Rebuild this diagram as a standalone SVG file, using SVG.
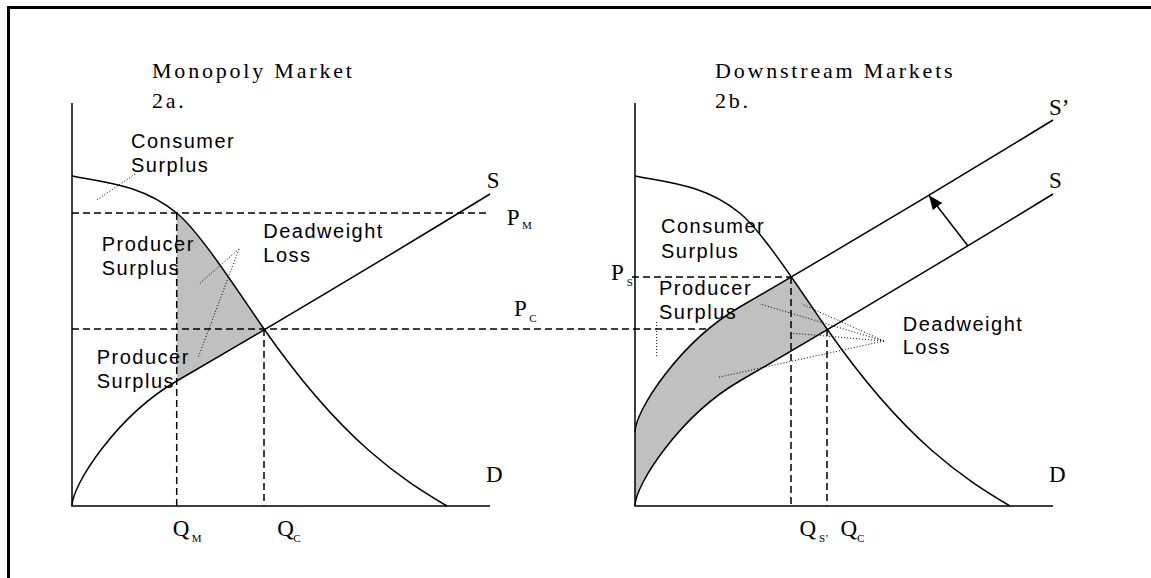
<svg xmlns="http://www.w3.org/2000/svg" width="1151" height="578" viewBox="0 0 1151 578">
<style>
.ax{stroke:#000;stroke-width:1.5;fill:none}
.cv{stroke:#000;stroke-width:1.5;fill:none}
.dash{stroke:#000;stroke-width:1.5;stroke-dasharray:7 4;fill:none}
.dot{stroke:#000;stroke-width:1;stroke-dasharray:1 2;fill:none}
.shade{fill:#c0c0c0;stroke:none}
.lbl{font-family:"Liberation Sans",Arial,sans-serif;font-size:20px;letter-spacing:1.5px;fill:#000}
.ttl{font-family:"Liberation Serif","Times New Roman",serif;font-size:22px;letter-spacing:2.8px;fill:#000}
.sym{font-family:"Liberation Serif","Times New Roman",serif;font-size:23px;fill:#000}
.sub{font-family:"Liberation Serif","Times New Roman",serif;font-size:11px;fill:#000}
</style>
<defs>
<clipPath id="belowD">
<path d="M635,176 C670,182.7 704.7,185 739.7,213 C763,232 802,293 827,329 C907,443.4 965,479 1010,506 L1010,600 L630,600 L630,176 Z"/>
</clipPath>
<marker id="head" markerUnits="userSpaceOnUse" markerWidth="14" markerHeight="12" refX="14" refY="6" orient="auto">
<path d="M0,0 L14,6 L0,12 Z" fill="#000"/>
</marker>
</defs>
<rect width="1151" height="578" fill="#fff"/>
<path id="frame" d="M8.5,578 V7.5 H1151" fill="none" stroke="#000" stroke-width="3"/>

<g id="panel-a">
<path class="shade" d="M176.7,213 C200,232 239,293 264,329 L264,329.85 Q220.36,355.6 176.7,381 Z"/>
<path class="dash" d="M72,213 H490 M72,329 H827 M176.7,213 V506 M264,329 V506"/>
<path class="ax" d="M72,103 V506 H490"/>
<path class="cv" d="M72,176 C107,182.7 141.7,185 176.7,213 C200,232 239,293 264,329 C344,443.4 402,479 447,506"/>
<path class="cv" d="M72,506 C72,485 116.7,415.9 176.7,381 Q333.35,290 490,194"/>
<path class="dot" d="M135,174 L96.7,200 M239,249 L199,284 M239,249 L198,358"/>
<text class="ttl" x="152" y="78">Monopoly Market</text>
<text class="ttl" x="152" y="108">2a.</text>
<text class="lbl" x="131" y="148">Consumer</text>
<text class="lbl" x="131" y="172">Surplus</text>
<text class="lbl" x="101.7" y="251">Producer</text>
<text class="lbl" x="101.7" y="275">Surplus</text>
<text class="lbl" x="263.3" y="238">Deadweight</text>
<text class="lbl" x="263.3" y="262">Loss</text>
<text class="lbl" x="96.7" y="364">Producer</text>
<text class="lbl" x="96.7" y="388">Surplus</text>
<text class="sym" x="486.7" y="188">S</text>
<text class="sym" x="506.7" y="225">P</text><text class="sub" x="522" y="229">M</text>
<text class="sym" x="514" y="316">P</text><text class="sub" x="529.3" y="322">C</text>
<text class="sym" x="486" y="482">D</text>
<text class="sym" x="172.7" y="536">Q</text><text class="sub" x="191.7" y="542">M</text>
<text class="sym" x="277.3" y="536">Q</text><text class="sub" x="293.3" y="542">C</text>
</g>

<g id="panel-b">
<path class="shade" clip-path="url(#belowD)" d="M635,432 C635,411 679.7,341.9 739.7,307 Q896.35,216 1053,120 L1053,194 Q896.35,290 739.7,381 C679.7,415.9 635,485 635,506 Z"/>
<path class="dash" d="M632,277 H791 M791,277 V506 M827,329 V506"/>
<path class="ax" d="M635,103 V506 H1053"/>
<path class="cv" d="M635,176 C670,182.7 704.7,185 739.7,213 C763,232 802,293 827,329 C907,443.4 965,479 1010,506"/>
<path class="cv" d="M635,506 C635,485 679.7,415.9 739.7,381 Q896.35,290 1053,194"/>
<path class="cv" d="M635,432 C635,411 679.7,341.9 739.7,307 Q896.35,216 1053,120"/>
<path class="cv" d="M968,246 L929,195.5" marker-end="url(#head)"/>
<path class="dot" d="M656.7,322 V358 M884,341 L760,304 M884,341 L801.7,304 M884,341 L793.3,333.3 M884,341 L718.3,377.3"/>
<text class="ttl" x="715" y="78">Downstream Markets</text>
<text class="ttl" x="715" y="108">2b.</text>
<text class="lbl" x="661" y="233">Consumer</text>
<text class="lbl" x="661" y="258">Surplus</text>
<text class="lbl" x="659" y="295">Producer</text>
<text class="lbl" x="659" y="319">Surplus</text>
<text class="lbl" x="902.7" y="331">Deadweight</text>
<text class="lbl" x="902.7" y="354">Loss</text>
<text class="sym" x="1049" y="115">S’</text>
<text class="sym" x="1049" y="188">S</text>
<text class="sym" x="611" y="280">P</text><text class="sub" x="626.7" y="286">S</text>
<text class="sym" x="1049" y="482">D</text>
<text class="sym" x="799.4" y="536">Q</text><text class="sub" x="819" y="542">S’</text>
<text class="sym" x="840.6" y="536">Q</text><text class="sub" x="857" y="542">C</text>
</g>
</svg>
